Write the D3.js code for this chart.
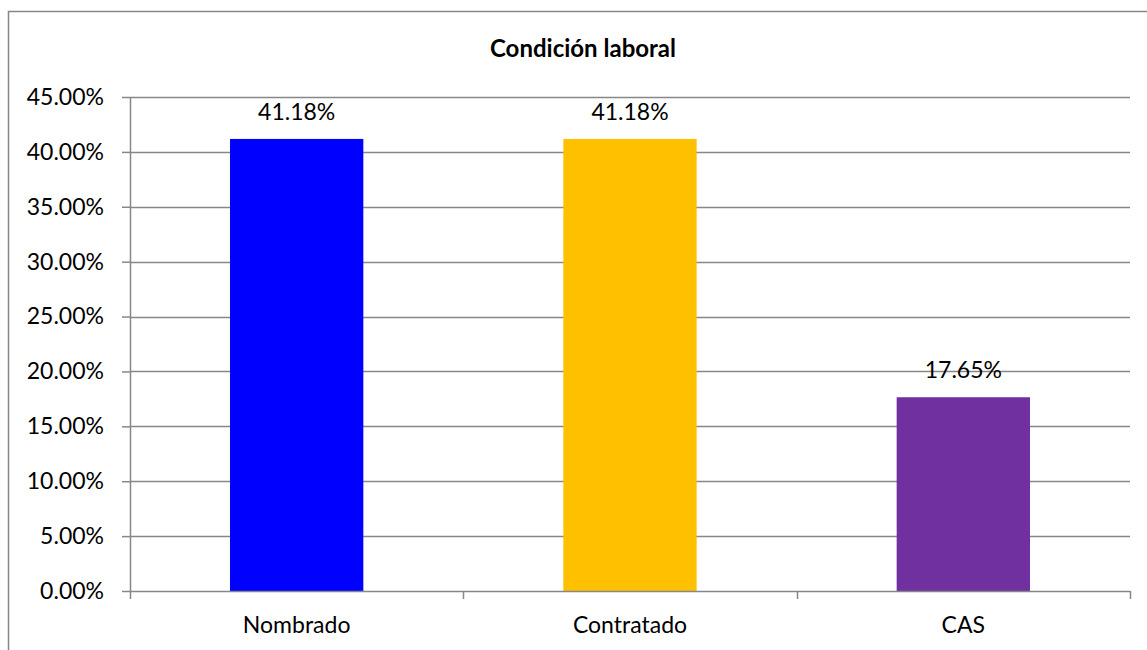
<!DOCTYPE html>
<html>
<head>
<meta charset="utf-8">
<script src="https://cdn.jsdelivr.net/npm/d3@7"></script>
<style>
  body { margin: 0; background: #fff; }
  svg { display: block; font-family: Lato, "Open Sans", sans-serif; }
</style>
</head>
<body>
<svg id="chart" width="1147" height="650"></svg>
<script>
// chart data
const categories = ["Nombrado", "Contratado", "CAS"];
const values = [41.18, 41.18, 17.65];
const barColors = ["#0000FF", "#FFC000", "#7030A0"];
const yTicks = [0, 5, 10, 15, 20, 25, 30, 35, 40, 45];
const title = "Condición laboral";

const svg = d3.select("#chart");
const margin = { top: 97, right: 17, bottom: 59, left: 130 };
const width = 1147 - margin.left - margin.right;
const height = 650 - margin.top - margin.bottom;
const gridColor = "#878787";
const labelSize = 23;

// outer frame (only left and top edges visible)
svg.append("rect")
    .attr("x", 8.5).attr("y", 11.5)
    .attr("width", 1200).attr("height", 700)
    .attr("fill", "none")
    .attr("stroke", gridColor)
    .attr("stroke-width", 1.5);

svg.append("text")
    .attr("x", 583).attr("y", 57)
    .attr("text-anchor", "middle")
    .attr("font-weight", "bold")
    .attr("font-size", 24)
    .attr("fill", "#000")
    .text(title);

const g = svg.append("g")
    .attr("transform", `translate(${margin.left}, ${margin.top})`);

const x = d3.scaleBand()
    .domain(categories)
    .range([0, width])
    .paddingInner(0.6)
    .paddingOuter(0.3);

const y = d3.scaleLinear()
    .domain([0, 45])
    .range([height, 0]);

// grid lines
g.append("g")
    .selectAll("line")
    .data(yTicks.filter(d => d > 0))
    .enter()
    .append("line")
    .attr("x1", 0).attr("x2", width)
    .attr("y1", d => Math.round(y(d)) + 0.5)
    .attr("y2", d => Math.round(y(d)) + 0.5)
    .attr("stroke", gridColor)
    .attr("stroke-width", 1.5);

// bars
g.selectAll(".bar")
    .data(values)
    .enter()
    .append("rect")
    .attr("class", "bar")
    .attr("x", (d, i) => x(categories[i]))
    .attr("y", d => y(d))
    .attr("width", x.bandwidth())
    .attr("height", d => height - y(d))
    .attr("fill", (d, i) => barColors[i]);

// value labels
g.selectAll(".val")
    .data(values)
    .enter()
    .append("text")
    .attr("x", (d, i) => x(categories[i]) + x.bandwidth() / 2)
    .attr("y", d => y(d) - 19)
    .attr("text-anchor", "middle")
    .attr("font-size", labelSize)
    .attr("fill", "#000")
    .text(d => d.toFixed(2) + "%");

// y axis
const yAxis = g.append("g")
    .call(d3.axisLeft(y)
        .tickValues(yTicks)
        .tickSize(8)
        .tickPadding(18)
        .tickFormat(d => d.toFixed(2) + "%"));
yAxis.selectAll("line").attr("stroke", gridColor).attr("stroke-width", 1.5);
yAxis.select(".domain").attr("stroke", gridColor).attr("stroke-width", 1.5).attr("d", `M0.5,0V${height}`);
yAxis.selectAll("text").attr("font-size", labelSize).attr("fill", "#000").attr("font-family", "Lato, sans-serif");

// x axis: ticks at band boundaries
const xAxisG = g.append("g").attr("transform", `translate(0, ${height})`);
xAxisG.append("line")
    .attr("x1", 0).attr("x2", width)
    .attr("y1", 0.5).attr("y2", 0.5)
    .attr("stroke", gridColor)
    .attr("stroke-width", 1.5);
const step = width / categories.length;
xAxisG.selectAll(".xtick")
    .data(d3.range(categories.length + 1))
    .enter()
    .append("line")
    .attr("x1", d => Math.round(d * step) + 0.5)
    .attr("x2", d => Math.round(d * step) + 0.5)
    .attr("y1", 0).attr("y2", 8)
    .attr("stroke", gridColor)
    .attr("stroke-width", 1.5);
xAxisG.selectAll(".xlab")
    .data(categories)
    .enter()
    .append("text")
    .attr("x", d => x(d) + x.bandwidth() / 2)
    .attr("y", 42)
    .attr("text-anchor", "middle")
    .attr("font-size", labelSize)
    .attr("fill", "#000")
    .text(d => d);
</script>
</body>
</html>
